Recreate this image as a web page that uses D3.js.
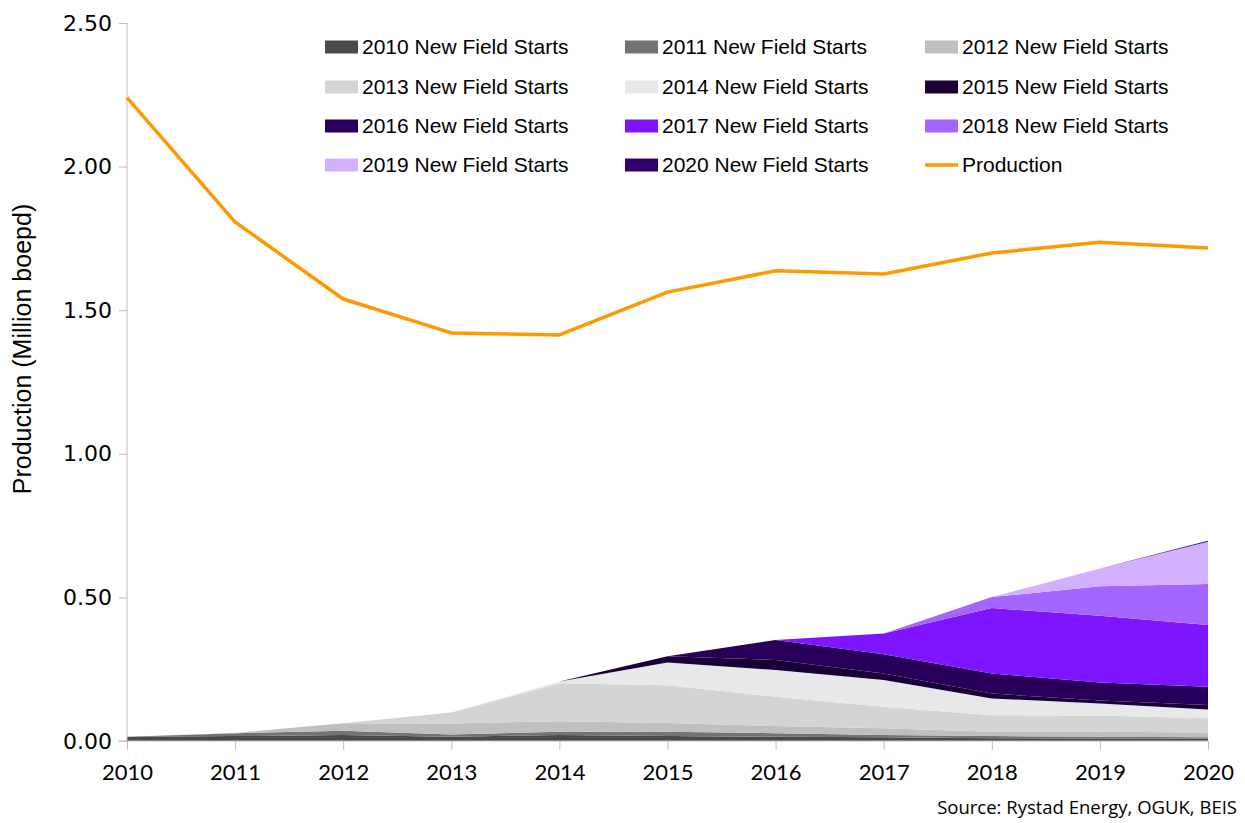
<!DOCTYPE html>
<meta charset="utf-8">
<script src="https://d3js.org/d3.v7.min.js"></script>
<style>
body { margin: 0; background: #fff; }
.axis path, .axis line { stroke: #bfbfbf; }
.ytick text { font-family: "DejaVu Sans", Verdana, sans-serif; font-size: 22px; fill: #000; }
.xtick text { font-family: Lato, "Liberation Sans", sans-serif; font-size: 22px; fill: #000; }
.legend text { font-family: "Liberation Sans Narrow", "Liberation Sans", sans-serif; font-size: 21px; fill: #000; }
</style>
<div id="chart"></div>
<script>
// data (million boepd)
var years = [2010, 2011, 2012, 2013, 2014, 2015, 2016, 2017, 2018, 2019, 2020];

var starts2010 = [0.015, 0.017, 0.021, 0.015, 0.021, 0.017, 0.015, 0.013, 0.010, 0.009, 0.008];
var starts2011 = [0, 0.010, 0.015, 0.008, 0.011, 0.015, 0.012, 0.008, 0.007, 0.006, 0.005];
var starts2012 = [0, 0.001, 0.026, 0.038, 0.037, 0.031, 0.025, 0.023, 0.015, 0.017, 0.017];
var starts2013 = [0, 0, 0, 0.038, 0.132, 0.131, 0.102, 0.075, 0.058, 0.057, 0.049];
var starts2014 = [0, 0, 0, 0, 0.006, 0.079, 0.093, 0.093, 0.058, 0.042, 0.031];
var starts2015 = [0, 0, 0, 0, 0, 0.022, 0.035, 0.023, 0.017, 0.010, 0.015];
var starts2016 = [0, 0, 0, 0, 0, 0, 0.070, 0.067, 0.070, 0.063, 0.064];
var starts2017 = [0, 0, 0, 0, 0, 0, 0, 0.072, 0.228, 0.232, 0.215];
var starts2018 = [0, 0, 0, 0, 0, 0, 0, 0, 0.038, 0.103, 0.143];
var starts2019 = [0, 0, 0, 0, 0, 0, 0, 0, 0, 0.062, 0.147];
var starts2020 = [0, 0, 0, 0, 0, 0, 0, 0, 0, 0, 0.003];

var production = [2.24, 1.807, 1.539, 1.421, 1.414, 1.563, 1.637, 1.626, 1.699, 1.737, 1.717];

var yTicks = [0, 0.5, 1.0, 1.5, 2.0, 2.5];

var seriesNames = ["2010 New Field Starts", "2011 New Field Starts", "2012 New Field Starts",
  "2013 New Field Starts", "2014 New Field Starts", "2015 New Field Starts",
  "2016 New Field Starts", "2017 New Field Starts", "2018 New Field Starts",
  "2019 New Field Starts", "2020 New Field Starts"];
var seriesValues = [starts2010, starts2011, starts2012, starts2013, starts2014, starts2015,
  starts2016, starts2017, starts2018, starts2019, starts2020];
var seriesColors = ["#4a4a4a", "#737373", "#bfbfbf", "#d4d4d4", "#e8e8e8", "#1b0038",
  "#28005a", "#7f14ff", "#a566ff", "#d2b0ff", "#330070"];
var productionColor = "#ff9900";

var width = 1245, height = 823;
var margin = {top: 23, right: 37, bottom: 82, left: 127};

var svg = d3.select("#chart").append("svg")
    .attr("width", width)
    .attr("height", height);

var x = d3.scaleLinear()
    .domain([2010, 2020])
    .range([margin.left, width - margin.right]);

var y = d3.scaleLinear()
    .domain([0, 2.5])
    .range([height - margin.bottom, margin.top]);

// build table for the stack
var table = years.map(function(yr, i) {
  var row = {year: yr};
  seriesNames.forEach(function(n, k) { row[n] = seriesValues[k][i]; });
  return row;
});

var stack = d3.stack().keys(seriesNames);
var layers = stack(table);

var area = d3.area()
    .x(function(d) { return x(d.data.year); })
    .y0(function(d) { return y(d[0]); })
    .y1(function(d) { return y(d[1]); });

svg.append("g").selectAll("path")
  .data(layers)
  .enter().append("path")
    .attr("d", area)
    .attr("fill", function(d, i) { return seriesColors[i]; });

// axes
var yAxis = svg.append("g")
    .attr("class", "axis ytick")
    .attr("transform", "translate(" + margin.left + ",0)")
    .call(d3.axisLeft(y).tickValues(yTicks).tickFormat(d3.format(".2f")).tickSize(8).tickPadding(7).tickSizeOuter(0));
yAxis.select(".domain").attr("d", "M0," + y(2.5) + "V" + y(0));

var xAxis = svg.append("g")
    .attr("class", "axis xtick")
    .attr("transform", "translate(0," + y(0) + ")")
    .call(d3.axisBottom(x).tickValues(years).tickFormat(d3.format("d")).tickSize(9).tickPadding(14).tickSizeOuter(0));
xAxis.select(".domain").attr("d", "M" + (margin.left - 9) + ",0H" + x(2020));

// production line
var line = d3.line()
    .x(function(d, i) { return x(years[i]); })
    .y(function(d) { return y(d); });

svg.append("path")
    .datum(production)
    .attr("d", line)
    .attr("fill", "none")
    .attr("stroke", productionColor)
    .attr("stroke-width", 3.5)
    .attr("stroke-linejoin", "round");

// y axis title
svg.append("text")
    .attr("transform", "translate(31,349) rotate(-90)")
    .attr("text-anchor", "middle")
    .style("font-family", "'Liberation Sans Narrow', 'Liberation Sans', sans-serif")
    .style("font-size", "25px")
    .text("Production (Million boepd)");

// legend
var legendItems = seriesNames.concat(["Production"]);
var legend = svg.append("g").attr("class", "legend");
var colX = [325, 625, 925], rowY = [47, 87, 126, 165];

legendItems.forEach(function(name, i) {
  var cx = colX[i % 3], cy = rowY[Math.floor(i / 3)];
  var g = legend.append("g").attr("transform", "translate(" + cx + "," + cy + ")");
  if (name === "Production") {
    g.append("line").attr("x1", 0).attr("x2", 33).attr("y1", 0).attr("y2", 0)
      .attr("stroke", productionColor).attr("stroke-width", 3.5);
  } else {
    g.append("rect").attr("x", 0).attr("y", -6.5).attr("width", 33).attr("height", 13)
      .attr("fill", seriesColors[i]);
  }
  g.append("text").attr("x", 37).attr("dy", "0.35em").text(name);
});

// source note
svg.append("text")
    .attr("x", 1237)
    .attr("y", 814)
    .attr("text-anchor", "end")
    .style("font-family", "'Open Sans', sans-serif")
    .style("font-size", "18.5px")
    .text("Source: Rystad Energy, OGUK, BEIS");
</script>
